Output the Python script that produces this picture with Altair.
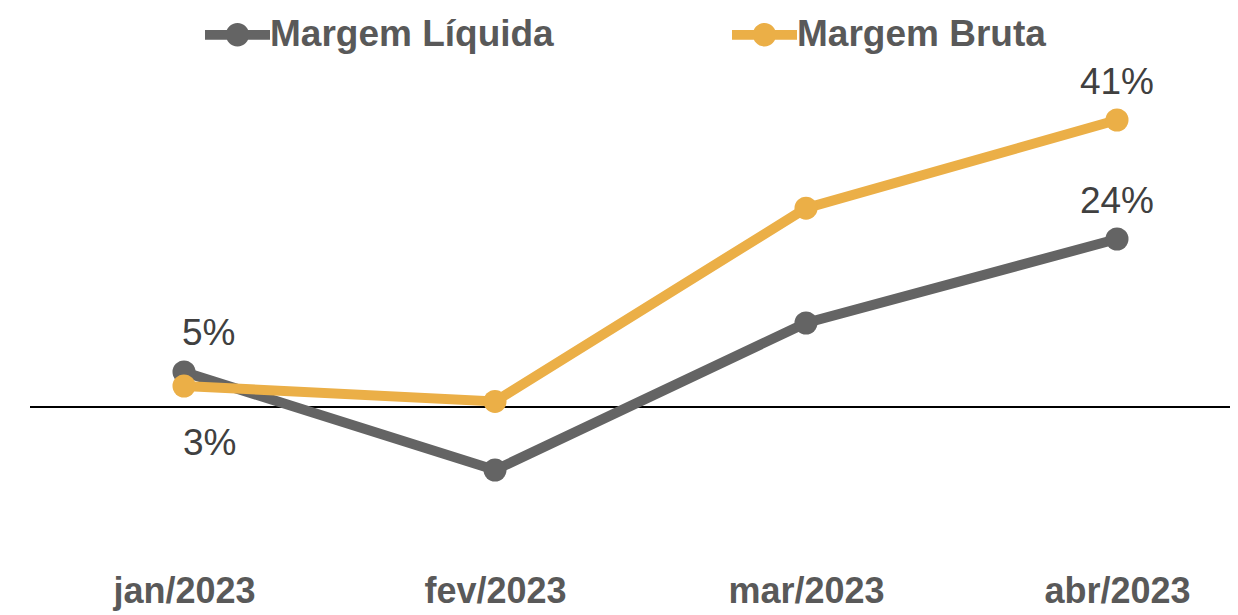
import altair as alt
import pandas as pd

months = ["jan/2023", "fev/2023", "mar/2023", "abr/2023"]
series_names = ["Margem Líquida", "Margem Bruta"]
margem_liquida = [5, -9, 12, 24]
margem_bruta = [3, 0.8, 28.4, 41]
labels_liquida = ["5%", "", "", "24%"]
labels_bruta = ["3%", "", "", "41%"]
label_side_liquida = ["above", "", "", "above"]
label_side_bruta = ["below", "", "", "above"]

rows = []
for i, m in enumerate(months):
    rows.append(dict(month=m, series=series_names[0], value=margem_liquida[i],
                     label=labels_liquida[i], side=label_side_liquida[i]))
    rows.append(dict(month=m, series=series_names[1], value=margem_bruta[i],
                     label=labels_bruta[i], side=label_side_bruta[i]))
df = pd.DataFrame(rows)

GRAY = "#646464"
ORANGE = "#EBAF47"
FONT = "Liberation Sans"

legend_shape = ("M-1,-0.15 L1,-0.15 L1,0.15 L-1,0.15 Z "
                "M-0.36,0 A0.36,0.36 0 1,1 0.36,0 A0.36,0.36 0 1,1 -0.36,0 Z")

x_enc = alt.X("month:N", sort=months,
              scale=alt.Scale(type="point", range=[154, 1087], padding=0),
              axis=alt.Axis(title=None, domain=False, ticks=False, grid=False,
                            labelFont=FONT, labelFontSize=36, labelFontWeight="bold",
                            labelColor="#595959", labelBaseline="alphabetic",
                            labelPadding=42, labelAngle=0))
y_scale = alt.Scale(domain=[-153 / 7, 57], nice=False, zero=False)
y_enc = alt.Y("value:Q", scale=y_scale, axis=None)
color_enc = alt.Color("series:N", sort=series_names,
                      scale=alt.Scale(domain=series_names, range=[GRAY, ORANGE]),
                      legend=alt.Legend(title=None, orient="none", direction="horizontal",
                                        legendX=175, legendY=-6,
                                        symbolType=legend_shape, symbolSize=4225,
                                        symbolStrokeWidth=0, labelOffset=0,
                                        labelFont=FONT, labelFontSize=37,
                                        labelFontWeight="bold", labelColor="#595959",
                                        columnPadding=178, padding=0, labelLimit=0))

base = alt.Chart(df)

zero_rule = alt.Chart(pd.DataFrame({"v": [0]})).mark_rule(
    color="#000000", strokeWidth=2).encode(y=alt.Y("v:Q", scale=y_scale, axis=None))

lines = base.mark_line(strokeWidth=10).encode(x=x_enc, y=y_enc, color=color_enc)
points = base.mark_circle(size=530, opacity=1).encode(x=x_enc, y=y_enc, color=color_enc)

text_common = dict(font=FONT, fontSize=37, color="#404040", baseline="alphabetic")
lab_first_above = base.transform_filter(
    (alt.datum.month == months[0]) & (alt.datum.side == "above")
).mark_text(align="left", dx=-2, dy=-27, **text_common).encode(
    x=x_enc, y=y_enc, text="label:N")
lab_first_below = base.transform_filter(
    (alt.datum.month == months[0]) & (alt.datum.side == "below")
).mark_text(align="left", dx=-1, dy=69, **text_common).encode(
    x=x_enc, y=y_enc, text="label:N")
lab_last_above = base.transform_filter(
    (alt.datum.month == months[-1]) & (alt.datum.side == "above")
).mark_text(align="center", dy=-26, **text_common).encode(
    x=x_enc, y=y_enc, text="label:N")

chart = alt.layer(
    zero_rule, lines, points, lab_first_above, lab_first_below, lab_last_above
).properties(
    width=1200, height=552,
    background="white",
    autosize=alt.AutoSizeParams(type="none"),
    padding={"left": 22, "top": 0, "right": 0, "bottom": 54},
).configure_view(stroke=None, strokeWidth=0)

chart.save("out.html", embed_options={"renderer": "svg", "actions": False})
